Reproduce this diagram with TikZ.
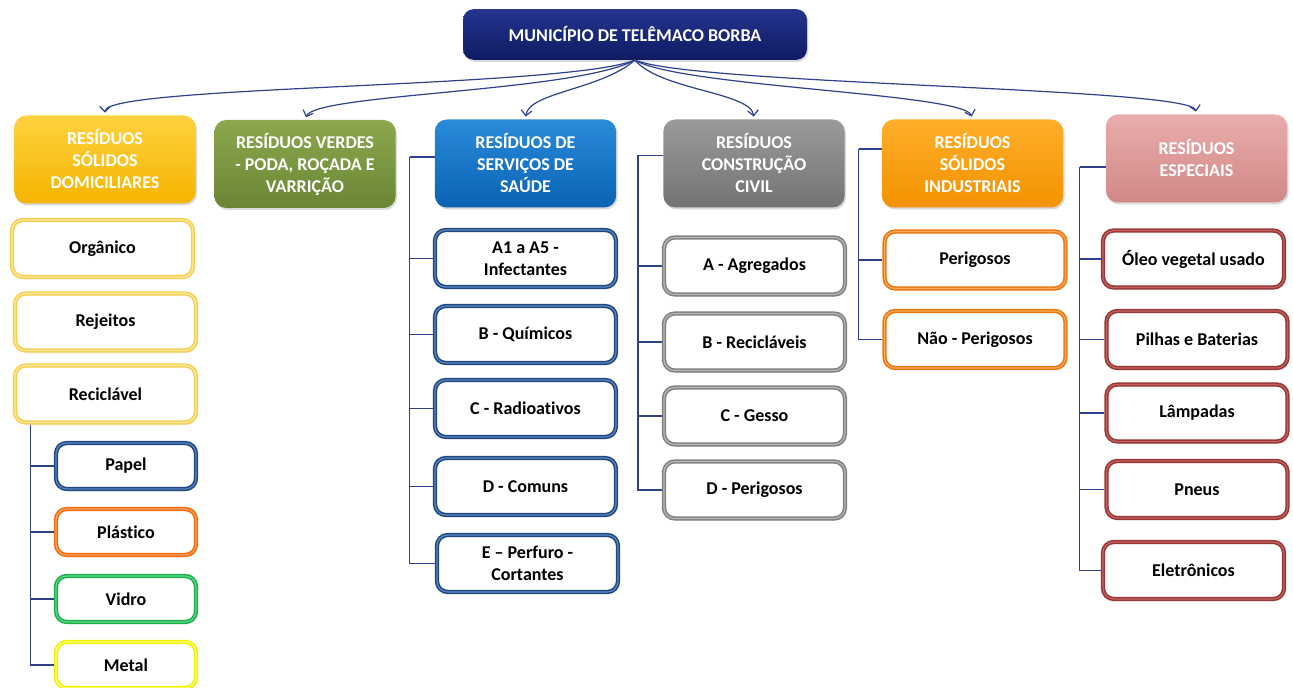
\documentclass[tikz,border=0pt]{standalone}
\usepackage{fontspec}
\setmainfont{Carlito}[Ligatures=NoCommon]
\usetikzlibrary{arrows.meta,shadows}
\definecolor{navyL}{HTML}{24358F}
\definecolor{navyD}{HTML}{0F1A62}
\definecolor{yelL}{HTML}{FFD23F}
\definecolor{yelD}{HTML}{F5B400}
\definecolor{grnL}{HTML}{8BA84E}
\definecolor{grnD}{HTML}{6A8634}
\definecolor{bluL}{HTML}{2A8BDB}
\definecolor{bluD}{HTML}{0A62B4}
\definecolor{gryL}{HTML}{9A9A9A}
\definecolor{gryD}{HTML}{737373}
\definecolor{orgL}{HTML}{FFAE2A}
\definecolor{orgD}{HTML}{F39200}
\definecolor{pnkL}{HTML}{E8ADAC}
\definecolor{pnkD}{HTML}{D18887}
\definecolor{connc}{HTML}{2E418F}
\definecolor{bYel}{HTML}{F6CF4E}\definecolor{bYelL}{HTML}{FFE9A0}
\definecolor{bBlu}{HTML}{1F497D}\definecolor{bBluL}{HTML}{5A86C2}
\definecolor{bOrg}{HTML}{F26C0C}\definecolor{bOrgL}{HTML}{FBA060}
\definecolor{bGrn}{HTML}{1AAF4B}\definecolor{bGrnL}{HTML}{5FD98A}
\definecolor{bMet}{HTML}{F0F000}\definecolor{bMetL}{HTML}{FFFF80}
\definecolor{bGry}{HTML}{808080}\definecolor{bGryL}{HTML}{B8B8B8}
\definecolor{bInd}{HTML}{E8770E}\definecolor{bIndL}{HTML}{FAAA5E}
\definecolor{bRed}{HTML}{953735}\definecolor{bRedL}{HTML}{C8615E}
\tikzset{
  txt/.style={font=\fontsize{13.5}{16.5}\selectfont\bfseries, align=center},
  lvl/.style 2 args={txt, text=white, rounded corners=9pt, minimum width=136pt, minimum height=66pt,
    top color=#1, bottom color=#2, drop shadow={opacity=0.3, shadow xshift=1pt, shadow yshift=-1.5pt}},
  leaf/.style n args={4}{txt, text=black, fill=white, draw=#1, line width=3.2pt, rounded corners=8pt,
    minimum width=#3, minimum height=#4,
    drop shadow={opacity=0.25, shadow xshift=1pt, shadow yshift=-1.5pt},
    postaction={draw=#2, line width=0.9pt}},
  bigleaf/.style 2 args={leaf={#1}{#2}{135.75pt}{42.75pt}},
  smallleaf/.style 2 args={leaf={#1}{#2}{105pt}{34.5pt}},
  conn/.style={draw=connc, line width=0.9pt},
  arr/.style={draw=connc, line width=0.9pt, -{Straight Barb[length=4pt,width=8pt]}, shorten >=2pt}
}
\begin{document}
\begin{tikzpicture}[x=0.75pt,y=-0.75pt]
\useasboundingbox (0,0) rectangle (1293,688);
% top
\node[txt, text=white, rounded corners=8pt, minimum width=258pt, minimum height=38pt,
  top color=navyL, bottom color=navyD, drop shadow={opacity=0.3, shadow xshift=1pt, shadow yshift=-1.5pt}]
  (top) at (635,34.5) {MUNICÍPIO DE TELÊMACO BORBA};
% level 1
\node[lvl={yelL}{yelD}] (rsd) at (105,159.5) {RESÍDUOS\\SÓLIDOS\\DOMICILIARES};
\node[lvl={grnL}{grnD}] (verdes) at (305,164) {RESÍDUOS VERDES\\- PODA, ROÇADA E\\VARRIÇÃO};
\node[lvl={bluL}{bluD}] (saude) at (525.5,163.5) {RESÍDUOS DE\\SERVIÇOS DE\\SAÚDE};
\node[lvl={gryL}{gryD}] (constr) at (754,163.5) {RESÍDUOS\\CONSTRUÇÃO\\CIVIL};
\node[lvl={orgL}{orgD}] (indus) at (972.5,163.5) {RESÍDUOS\\SÓLIDOS\\INDUSTRIAIS};
\node[lvl={pnkL}{pnkD}] (espec) at (1196.5,158.5) {RESÍDUOS\\ESPECIAIS};
% arrows from top
\draw[arr] (top.south) .. controls +(-70,28) and +(0,-30) .. (rsd.north);
\draw[arr] (top.south) .. controls +(-60,32) and +(10,-26) .. (verdes.north);
\draw[arr] (top.south) .. controls +(-35,30) and +(3,-27) .. (saude.north);
\draw[arr] (top.south) .. controls +(25,30) and +(-3,-27) .. (constr.north);
\draw[arr] (top.south) .. controls +(45,27) and +(-8,-26) .. (indus.north);
\draw[arr] (top.south) .. controls +(60,25) and +(-5,-27) .. (espec.north);
% RSD children
\node[bigleaf={bYel}{bYelL}] (org) at (102.5,248.5) {Orgânico};
\node[bigleaf={bYel}{bYelL}] (rej) at (105.5,322) {Rejeitos};
\node[bigleaf={bYel}{bYelL}] (recic) at (105.5,394) {Reciclável};
\node[smallleaf={bBlu}{bBluL}] (papel) at (126,466) {Papel};
\node[smallleaf={bOrg}{bOrgL}] (plast) at (126,532) {Plástico};
\node[smallleaf={bGrn}{bGrnL}] (vidro) at (126,599) {Vidro};
\node[smallleaf={bMet}{bMetL}] (metal) at (126,665) {Metal};
\coordinate (rsp) at ([xshift=13.5pt]recic.south west);
\draw[conn] (rsp) |- (papel.west);
\draw[conn] (rsp) |- (plast.west);
\draw[conn] (rsp) |- (vidro.west);
\draw[conn] (rsp) |- (metal.west);
% Saude children
\node[bigleaf={bBlu}{bBluL}] (s1) at (525.5,258.5) {A1 a A5 -\\Infectantes};
\node[bigleaf={bBlu}{bBluL}] (s2) at (525.5,334.5) {B - Químicos};
\node[bigleaf={bBlu}{bBluL}] (s3) at (525.5,408.5) {C - Radioativos};
\node[bigleaf={bBlu}{bBluL}] (s4) at (525.5,486.5) {D - Comuns};
\node[bigleaf={bBlu}{bBluL}] (s5) at (527.5,563.5) {E -- Perfuro -\\Cortantes};
\draw[conn] ([yshift=4.9pt]saude.west) -- ++(-25,0) coordinate (ssp);
\foreach \n in {s1,s2,s3,s4,s5} \draw[conn] (ssp) |- (\n.west);
% Construcao children
\node[bigleaf={bGry}{bGryL}] (c1) at (754.5,266) {A - Agregados};
\node[bigleaf={bGry}{bGryL}] (c2) at (754.5,342) {B - Recicláveis};
\node[bigleaf={bGry}{bGryL}] (c3) at (754.5,416) {C - Gesso};
\node[bigleaf={bGry}{bGryL}] (c4) at (754.5,490) {D - Perigosos};
\draw[conn] ([yshift=6pt]constr.west) -- ++(-25,0) coordinate (csp);
\foreach \n in {c1,c2,c3,c4} \draw[conn] (csp) |- (\n.west);
% Industriais children
\node[bigleaf={bInd}{bIndL}] (i1) at (975,260) {Perigosos};
\node[bigleaf={bInd}{bIndL}] (i2) at (975,339.5) {Não - Perigosos};
\draw[conn] ([yshift=10.9pt]indus.west) -- ++(-23,0) coordinate (isp);
\foreach \n in {i1,i2} \draw[conn] (isp) |- (\n.west);
% Especiais children
\node[bigleaf={bRed}{bRedL}] (e1) at (1193.5,259) {Óleo vegetal usado};
\node[bigleaf={bRed}{bRedL}] (e2) at (1197,339.5) {Pilhas e Baterias};
\node[bigleaf={bRed}{bRedL}] (e3) at (1197,413) {Lâmpadas};
\node[bigleaf={bRed}{bRedL}] (e4) at (1197,489.5) {Pneus};
\node[bigleaf={bRed}{bRedL}] (e5) at (1193.5,570.5) {Eletrônicos};
\draw[conn] ([yshift=-6.4pt]espec.west) -- ++(-26,0) coordinate (esp);
\foreach \n in {e1,e2,e3,e4,e5} \draw[conn] (esp) |- (\n.west);
\end{tikzpicture}
\end{document}
